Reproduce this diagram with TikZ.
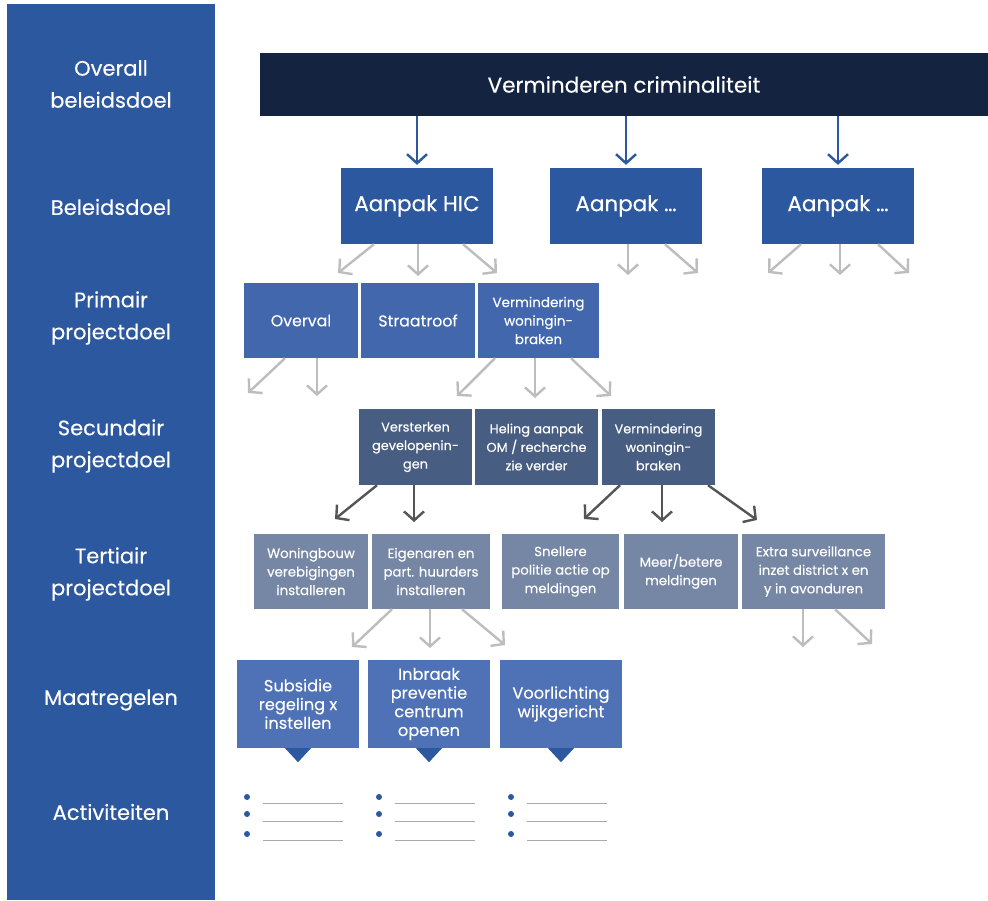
\documentclass[tikz,border=0pt]{standalone}
\usepackage{fontspec}
\setmainfont{Poppins}[FakeBold=0.25]
\usetikzlibrary{arrows.meta,calc}
\definecolor{colblue}{HTML}{2C58A0}
\definecolor{topnavy}{HTML}{14233F}
\definecolor{primblue}{HTML}{4267AC}
\definecolor{secblue}{HTML}{475D82}
\definecolor{terblue}{HTML}{7687A5}
\definecolor{maatblue}{HTML}{4E72B5}
\definecolor{arrgrey}{HTML}{BDBDBD}
\definecolor{arrdark}{HTML}{555555}
\definecolor{linegrey}{HTML}{AAAAAA}
\tikzset{
  box/.style={inner sep=0pt, text=white, align=center},
  lvl/.style={text=white, align=center, font=\fontsize{21}{32}\selectfont},
  toparrow/.style={draw=colblue, line width=2.4pt, -{Straight Barb[length=9pt,width=20pt]}},
  garrow/.style={draw=arrgrey, line width=2.4pt, -{Straight Barb[length=9pt,width=20pt]}},
  darrow/.style={draw=arrdark, line width=2.4pt, -{Straight Barb[length=9pt,width=20pt]}},
  actline/.style={draw=linegrey, line width=1pt},
}
\begin{document}
\begin{tikzpicture}[x=1pt,y=-1pt]
\useasboundingbox[fill=white] (0,0) rectangle (988,900);
% left column
\fill[colblue] (7,4) rectangle (215,900);
\node[lvl] (l1) at (111,84) {Overall\\beleidsdoel};
\node[lvl] (l2) at (111,207) {Beleidsdoel};
\node[lvl] (l3) at (111,318) {Primair\\projectdoel};
\node[lvl] (l4) at (111,446) {Secundair\\projectdoel};
\node[lvl] (l5) at (111,574) {Tertiair\\projectdoel};
\node[lvl] (l6) at (111,700) {Maatregelen};
\node[lvl] (l7) at (111,812) {Activiteiten};

% top
\node[box, fill=topnavy, minimum width=728pt, minimum height=63pt, font=\fontsize{21.5}{24}\selectfont] (top) at (624,84.5) {Verminderen criminaliteit};

% beleidsdoel
\tikzset{bel/.style={box, fill=colblue, minimum width=152pt, minimum height=76pt, font=\fontsize{21.5}{24}\selectfont}}
\node[bel] (hic) at (417,206) {Aanpak HIC};
\node[bel] (ap1) at (626,206) {Aanpak \dots};
\node[bel] (ap2) at (838,206) {Aanpak \dots};

% primair
\tikzset{prim/.style={box, fill=primblue, minimum height=75pt, font=\fontsize{13.5}{18.5}\selectfont}}
\node[prim, minimum width=114pt, font=\fontsize{15.8}{18.5}\selectfont] (overval) at (301,320.5) {Overval};
\node[prim, minimum width=114pt, font=\fontsize{15.8}{18.5}\selectfont] (straat) at (418,320.5) {Straatroof};
\node[prim, minimum width=121pt] (verm1) at (538.5,320.5) {Vermindering\\woningin-\\braken};

% secundair
\tikzset{sec/.style={box, fill=secblue, minimum height=76pt, font=\fontsize{12.9}{18.5}\selectfont}}
\node[sec, minimum width=113pt] (verst) at (415.5,447) {Versterken\\gevelopenin-\\gen};
\node[sec, minimum width=123pt] (heling) at (536.5,447) {Heling aanpak\\OM / recherche\\zie verder};
\node[sec, minimum width=113pt] (verm2) at (658.5,447) {Vermindering\\woningin-\\braken};

% tertiair
\tikzset{ter/.style={box, fill=terblue, minimum height=75pt, font=\fontsize{13.3}{18.5}\selectfont}}
\node[ter, minimum width=114pt] (wonbouw) at (311,571.5) {Woningbouw\\verebigingen\\installeren};
\node[ter, minimum width=118pt] (eigen) at (431,571.5) {Eigenaren en\\part. huurders\\installeren};
\node[ter, minimum width=117pt] (snel) at (560.5,571.5) {Snellere\\politie actie op\\meldingen};
\node[ter, minimum width=114pt] (meer) at (681,571.5) {Meer/betere\\meldingen};
\node[ter, minimum width=143pt] (extra) at (813.5,571.5) {Extra surveillance\\inzet district x en\\y in avonduren};

% maatregelen
\tikzset{maat/.style={box, fill=maatblue, minimum width=122pt, minimum height=88pt, font=\fontsize{16.2}{18.7}\selectfont}}
\node[maat] (subs) at (298,704) {Subsidie\\regeling x\\instellen};
\node[maat] (inbr) at (429,704) {Inbraak\\preventie\\centrum\\openen};
\node[maat] (voor) at (561,704) {Voorlichting\\wijkgericht};
\foreach \n in {subs,inbr,voor}{
  \fill[colblue] ([xshift=-13pt]\n.south) -- ([xshift=13pt]\n.south) -- ([yshift=-14pt]\n.south) -- cycle;
}

% blue arrows
\draw[toparrow] (top.south -| hic.north) -- ([yshift=3pt]hic.north);
\draw[toparrow] (top.south -| ap1.north) -- ([yshift=3pt]ap1.north);
\draw[toparrow] (top.south -| ap2.north) -- ([yshift=3pt]ap2.north);

% free-end coordinates
\coordinate (h1) at (338,273); \coordinate (h2) at (418,276); \coordinate (h3) at (497,273);
\coordinate (a12) at (628,275); \coordinate (a13) at (698,273);
\coordinate (a21) at (768,273); \coordinate (a22) at (840,275); \coordinate (a23) at (909,273);
\coordinate (o1) at (248,393); \coordinate (o2) at (317,396);
\coordinate (v1) at (457,396); \coordinate (v2) at (535,398); \coordinate (v3) at (611,396);
\coordinate (s1) at (335,519); \coordinate (s2) at (414,522);
\coordinate (w1) at (584,519); \coordinate (w2) at (662,522); \coordinate (w3) at (757,520);
\coordinate (e1) at (352,647); \coordinate (e2) at (430,648); \coordinate (e3) at (505,645);
\coordinate (x2) at (803,647); \coordinate (x3) at (872,644);

% grey arrows
\draw[garrow] ([xshift=-43pt]hic.south) -- (h1);
\draw[garrow] ([xshift=1pt]hic.south) -- (h2);
\draw[garrow] ([xshift=46pt]hic.south) -- (h3);
\draw[garrow] ([xshift=2pt]ap1.south) -- (a12);
\draw[garrow] ([xshift=39pt]ap1.south) -- (a13);
\draw[garrow] ([xshift=-37pt]ap2.south) -- (a21);
\draw[garrow] ([xshift=2pt]ap2.south) -- (a22);
\draw[garrow] ([xshift=40pt]ap2.south) -- (a23);
\draw[garrow] ([xshift=-16pt]overval.south) -- (o1);
\draw[garrow] ([xshift=16pt]overval.south) -- (o2);
\draw[garrow] ([xshift=-43.5pt]verm1.south) -- (v1);
\draw[garrow] ([xshift=-3.5pt]verm1.south) -- (v2);
\draw[garrow] ([xshift=32.5pt]verm1.south) -- (v3);
\draw[garrow] ([xshift=-39pt]eigen.south) -- (e1);
\draw[garrow] ([xshift=-1pt]eigen.south) -- (e2);
\draw[garrow] ([xshift=31pt]eigen.south) -- (e3);
\draw[garrow] ([xshift=-10.5pt]extra.south) -- (x2);
\draw[garrow] ([xshift=21.5pt]extra.south) -- (x3);

% dark arrows
\draw[darrow] ([xshift=-38.5pt]verst.south) -- (s1);
\draw[darrow] ([xshift=-1.5pt]verst.south) -- (s2);
\draw[darrow] ([xshift=-38.5pt]verm2.south) -- (w1);
\draw[darrow] ([xshift=3.5pt]verm2.south) -- (w2);
\draw[darrow] ([xshift=49.5pt]verm2.south) -- (w3);

% activities
\foreach \bx in {247,379,511}{
  \foreach \by/\ly in {797/803,814/821,834/840}{
    \fill[colblue] (\bx,\by) circle (3pt);
    \draw[actline] (\bx+16,\ly) -- (\bx+96,\ly);
  }
}
\end{tikzpicture}
\end{document}
